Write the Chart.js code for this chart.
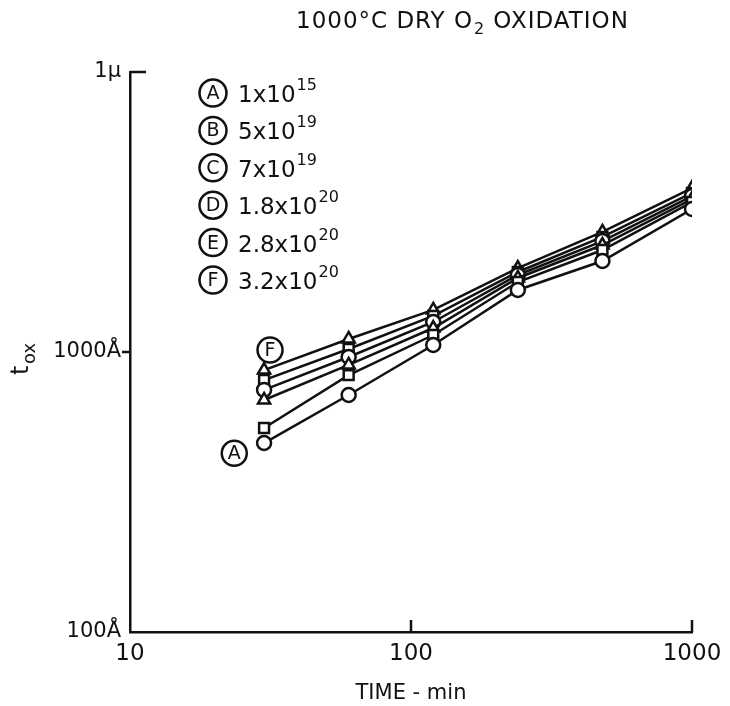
<!DOCTYPE html>
<html><head><meta charset="utf-8">
<script src="https://cdn.jsdelivr.net/npm/chart.js@4/dist/chart.umd.min.js"></script>
<style>html,body{margin:0;padding:0;background:#fff}#wrap{width:730px;height:706px;position:relative}</style>
</head><body><div id="wrap"><canvas id="c" width="730" height="706"></canvas></div>
<script>
// ---- data ----
const times = [30, 60, 120, 240, 480, 1000];
const seriesA = [473, 702, 1059, 1665, 2113, 3242];
const seriesB = [535, 827, 1150, 1778, 2313, 3433];
const seriesC = [674, 899, 1218, 1838, 2410, 3519];
const seriesD = [732, 960, 1280, 1884, 2490, 3607];
const seriesE = [794, 1025, 1345, 1931, 2575, 3698];
const seriesF = [862, 1113, 1413, 1995, 2683, 3852];
const seriesLetters = ['A', 'B', 'C', 'D', 'E', 'F'];
const seriesMantissa = ['1', '5', '7', '1.8', '2.8', '3.2'];
const seriesExponent = ['15', '19', '19', '20', '20', '20'];
const xTickValues = [10, 100, 1000];
const xTickLabels = ['10', '100', '1000'];
const yTickValues = [100, 1000, 10000];
const yTickLabels = ['100Å', '1000Å', '1µ'];

// ---- styling ----
const INK = '#111';
const FONT = '"DejaVu Sans", "Liberation Sans", sans-serif';
const markerStyles = ['circle', 'rect', 'triangle', 'circle', 'rect', 'triangle'];
const allSeries = [seriesA, seriesB, seriesC, seriesD, seriesE, seriesF];

const datasets = allSeries.map((vals, i) => ({
  label: seriesLetters[i],
  data: times.map((t, j) => ({x: t, y: vals[j]})),
  showLine: true,
  borderColor: INK,
  borderWidth: 2.5,
  backgroundColor: '#fff',
  pointStyle: markerStyles[i],
  pointRadius: 7,
  pointBorderWidth: 2.5,
  pointBorderColor: INK,
  pointBackgroundColor: '#fff'
}));

const callouts = [
  {letter: 'F', x: 31.5, y: 1016},
  {letter: 'A', x: 23.5, y: 435}
];

function circledLetter(ctx, cx, cy, letter, r) {
  ctx.save();
  ctx.beginPath();
  ctx.arc(cx, cy, r, 0, Math.PI * 2);
  ctx.lineWidth = 2.5;
  ctx.strokeStyle = INK;
  ctx.stroke();
  ctx.fillStyle = INK;
  ctx.font = '19px ' + FONT;
  ctx.textAlign = 'center';
  ctx.textBaseline = 'middle';
  ctx.fillText(letter, cx, cy + 1);
  ctx.restore();
}

const decor = {
  id: 'decor',
  afterDraw(chart) {
    const ctx = chart.ctx;
    const xs = chart.scales.x, ys = chart.scales.y;
    const ax = xs.left, ay = ys.bottom;
    ctx.save();
    ctx.strokeStyle = INK;
    ctx.lineWidth = 2.5;
    // x ticks pointing up
    [100, 1000].forEach(v => {
      const px = xs.getPixelForValue(v);
      ctx.beginPath(); ctx.moveTo(px, ay); ctx.lineTo(px, ay - 12); ctx.stroke();
    });
    // y ticks
    const p1000 = ys.getPixelForValue(1000);
    ctx.beginPath(); ctx.moveTo(ax, p1000); ctx.lineTo(ax - 8, p1000); ctx.stroke();
    const ptop = ys.getPixelForValue(10000);
    ctx.beginPath(); ctx.moveTo(ax, ptop); ctx.lineTo(ax + 16, ptop); ctx.stroke();

    // title
    ctx.fillStyle = INK;
    ctx.textBaseline = 'alphabetic';
    ctx.textAlign = 'left';
    ctx.letterSpacing = '1px';
    ctx.font = '23px ' + FONT;
    let tx = 296, ty = 28;
    const p1 = '1000°C DRY O';
    ctx.fillText(p1, tx, ty);
    tx += ctx.measureText(p1).width;
    ctx.font = '16px ' + FONT;
    ctx.fillText('2', tx + 1, ty + 6);
    tx += ctx.measureText('2').width + 9;
    ctx.font = '23px ' + FONT;
    ctx.fillText('OXIDATION', tx, ty);
    ctx.letterSpacing = '0px';

    // x title
    ctx.textAlign = 'center';
    ctx.font = '21px ' + FONT;
    ctx.fillText('TIME - min', (xs.left + xs.right) / 2, 699);

    // y title rotated
    ctx.save();
    ctx.translate(28, 355);
    ctx.rotate(-Math.PI / 2);
    ctx.textAlign = 'left';
    ctx.font = '24px ' + FONT;
    ctx.fillText('t', -20, 0);
    ctx.font = '18px ' + FONT;
    ctx.fillText('ox', -9, 7);
    ctx.restore();

    // legend
    const lx = 213, ly0 = 93, step = 37.4;
    seriesLetters.forEach((L, i) => {
      const y = ly0 + i * step;
      circledLetter(ctx, lx, y, L, 13.5);
      ctx.fillStyle = INK;
      ctx.textAlign = 'left';
      ctx.textBaseline = 'alphabetic';
      ctx.font = '23px ' + FONT;
      const s = seriesMantissa[i] + 'x10';
      let x = lx + 25;
      ctx.fillText(s, x, y + 9);
      x += ctx.measureText(s).width + 1;
      ctx.font = '16px ' + FONT;
      ctx.fillText(seriesExponent[i], x, y - 3);
    });

    // callouts
    callouts.forEach(c => {
      circledLetter(ctx, xs.getPixelForValue(c.x), ys.getPixelForValue(c.y), c.letter, 12.5);
    });
    ctx.restore();
  }
};

new Chart(document.getElementById('c'), {
  type: 'scatter',
  data: {datasets},
  options: {
    responsive: false,
    devicePixelRatio: 1,
    animation: false,
    layout: {padding: {left: 0, right: 38, top: 72, bottom: 0}},
    plugins: {legend: {display: false}, tooltip: {enabled: false}, title: {display: false}},
    scales: {
      x: {
        type: 'logarithmic', min: 10, max: 1000, position: 'bottom',
        afterBuildTicks: s => { s.ticks = xTickValues.map(v => ({value: v})); },
        afterFit: s => { s.height = 74; },
        ticks: {
          callback: (v, i) => xTickLabels[i], color: INK, autoSkip: false, maxRotation: 0,
          font: {family: FONT, size: 23}, padding: 8
        },
        grid: {display: false, drawTicks: false},
        border: {display: true, color: INK, width: 2.5}
      },
      y: {
        type: 'logarithmic', min: 100, max: 10000,
        afterBuildTicks: s => { s.ticks = yTickValues.map(v => ({value: v})); },
        afterFit: s => { s.width = 130; },
        ticks: {
          callback: (v, i) => yTickLabels[i], color: INK, autoSkip: false,
          font: {family: FONT, size: 21}, padding: 9
        },
        grid: {display: false, drawTicks: false},
        border: {display: true, color: INK, width: 2.5}
      }
    }
  },
  plugins: [decor]
});
</script>
</body></html>
